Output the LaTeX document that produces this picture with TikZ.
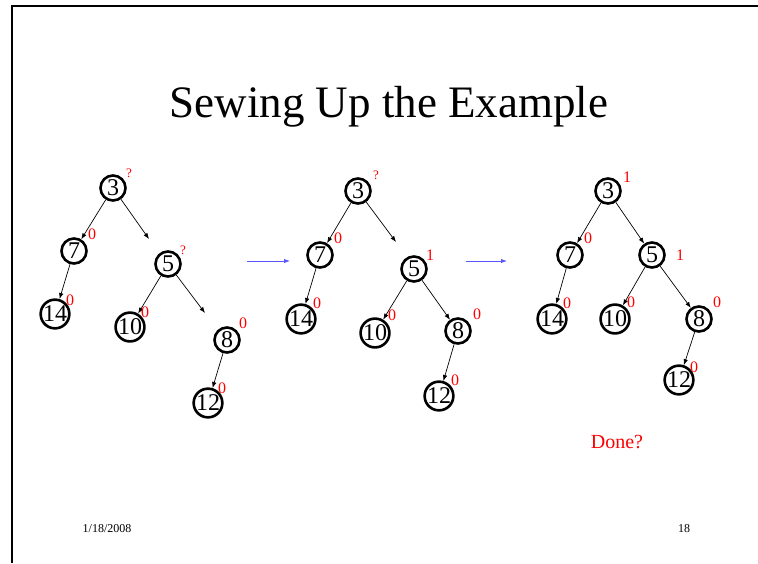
\documentclass[tikz,border=0pt]{standalone}
\usepackage{fontspec}
\setmainfont{Liberation Serif}
\usetikzlibrary{arrows.meta}
\tikzset{key/.style={circle,draw=black,line width=2.6pt,inner sep=0pt,minimum size=25pt,font=\fontsize{24}{24}\selectfont},
bal/.style={text=red,inner sep=0pt,font=\fontsize{16}{16}\selectfont},
qm/.style={text=red,inner sep=0pt,font=\fontsize{13}{13}\selectfont},
edge/.style={-{Latex[length=6pt,width=4.5pt]},line width=0.7pt},
stage/.style={-{Latex[length=6pt,width=4.5pt]},line width=0.9pt,blue!65!white}}

\begin{document}
\begin{tikzpicture}[x=1pt,y=-1pt]
\useasboundingbox (0,0) rectangle (758,563);
\draw[line width=1.4pt] (12,563)--(12,6)--(758,6);
\node (title) at (389,107) {\fontsize{45}{45}\selectfont Sewing Up the Example};

% first tree
\node[key] (a3) at (113,188) {3};
\node[key] (a7) at (74,251) {7};
\node[key] (a5) at (168,264) {5};
\node[key] (a14) at (55,314) {14};
\node[key] (a10) at (130,327) {10};
\node[key] (a8) at (227,340) {8};
\node[key] (a12) at (208,403) {12};
\coordinate (a35) at (149,239);
\coordinate (a58) at (205,313);
\draw[edge] (a3)--(a7); \draw[edge] (a3)--(a35);
\draw[edge] (a7)--(a14);
\draw[edge] (a5)--(a10); \draw[edge] (a5)--(a58);
\draw[edge] (a8)--(a12);
\node[qm] (b3) at (129,173) {?};
\node[bal] (b7) at (92,234) {0};
\node[qm] (b5) at (183,250) {?};
\node[bal] (b14) at (70,300) {0};
\node[bal] (b10) at (145,312) {0};
\node[bal] (b8) at (243,323) {0};
\node[bal] (b12) at (222,388) {0};

\coordinate (s1) at (247,261); \coordinate (s2) at (290,261);
\draw[stage] (s1)--(s2);

% second tree
\node[key] (c3) at (358,191) {3};
\node[key] (c7) at (320,255) {7};
\node[key] (c5) at (414,269) {5};
\node[key] (c14) at (301,319) {14};
\node[key] (c10) at (375,333) {10};
\node[key] (c8) at (458,331) {8};
\node[key] (c12) at (439,396) {12};
\coordinate (c35) at (396,242);
\draw[edge] (c3)--(c7); \draw[edge] (c3)--(c35);
\draw[edge] (c7)--(c14);
\draw[edge] (c5)--(c10); \draw[edge] (c5)--(c8);
\draw[edge] (c8)--(c12);
\node[qm] (d3) at (376,175) {?};
\node[bal] (d7) at (338,238) {0};
\node[bal] (d5) at (430,255) {1};
\node[bal] (d14) at (317,303) {0};
\node[bal] (d10) at (392,315) {0};
\node[bal] (d8) at (477,314) {0};
\node[bal] (d12) at (455,380) {0};

\coordinate (s3) at (466,261); \coordinate (s4) at (507,261);
\draw[stage] (s3)--(s4);

% third tree
\node[key] (e3) at (608,191) {3};
\node[key] (e7) at (570,255) {7};
\node[key] (e5) at (652,255) {5};
\node[key] (e14) at (552,319) {14};
\node[key] (e10) at (615,319) {10};
\node[key] (e8) at (699,319) {8};
\node[key] (e12) at (679,380) {12};
\draw[edge] (e3)--(e7); \draw[edge] (e3)--(e5);
\draw[edge] (e7)--(e14);
\draw[edge] (e5)--(e10); \draw[edge] (e5)--(e8);
\draw[edge] (e8)--(e12);
\node[bal] (f3) at (627,177) {1};
\node[bal] (f7) at (588,238) {0};
\node[bal] (f5) at (680,255) {1};
\node[bal] (f14) at (567,303) {0};
\node[bal] (f10) at (631,302) {0};
\node[bal] (f8) at (717,302) {0};
\node[bal] (f12) at (694,367) {0};

\node[text=red,font=\fontsize{20}{20}\selectfont] (done) at (617,442) {Done?};
\node[font=\fontsize{12}{12}\selectfont] (date) at (107,529) {1/18/2008};
\node[font=\fontsize{12}{12}\selectfont] (page) at (684,529) {18};
\end{tikzpicture}
\end{document}
